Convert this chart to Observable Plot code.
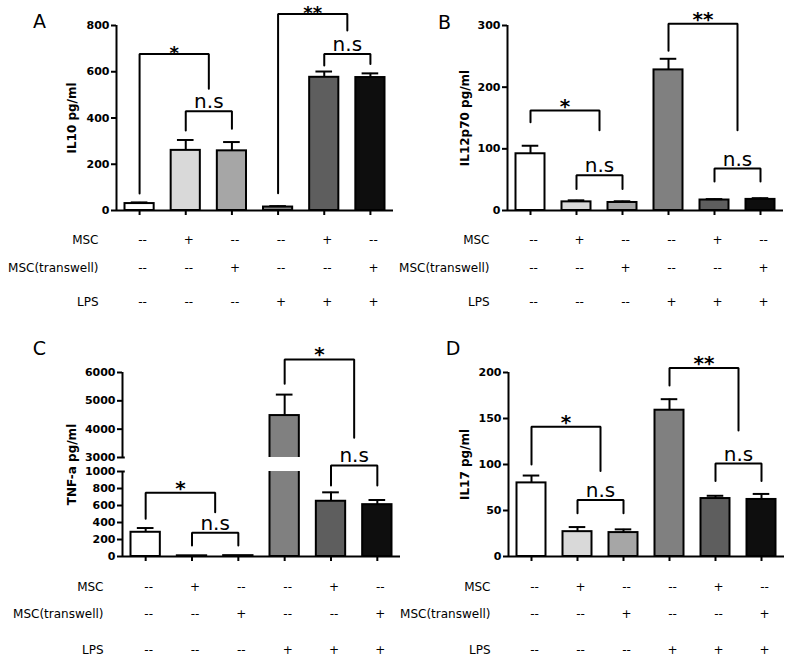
<!DOCTYPE html>
<html>
<head>
<meta charset="utf-8">
<script src="https://cdn.jsdelivr.net/npm/d3@7"></script>
<script src="https://cdn.jsdelivr.net/npm/@observablehq/plot@0.6"></script>
<style>
  body { margin: 0; background: #fff; }
  #fig { position: relative; width: 787px; height: 656px; overflow: hidden; background: #fff; }
  #fig > div { position: absolute; }
</style>
</head>
<body>
<div id="fig"></div>
<script>
// ---------- data ----------
const groups = [0, 1, 2, 3, 4, 5];
const barFills = ["#ffffff", "#d9d9d9", "#a6a6a6", "#808080", "#5e5e5e", "#0e0e0e"];

const rowLabels = ["MSC", "MSC(transwell)", "LPS"];
const mscRow = ["--", "+", "--", "--", "+", "--"];
const transwellRow = ["--", "--", "+", "--", "--", "+"];
const lpsRow = ["--", "--", "--", "+", "+", "+"];

const il10Mean = [30, 260, 258, 15, 576, 575];
const il10Sem = [5, 45, 38, 4, 25, 18];
const il10Ticks = [0, 200, 400, 600, 800];

const il12Mean = [92, 14, 13, 228, 17, 18];
const il12Sem = [13, 2.5, 2, 18, 1.5, 2];
const il12Ticks = [0, 100, 200, 300];

const tnfMean = [285, 8, 10, 4480, 650, 610];
const tnfSem = [50, 0, 0, 740, 105, 55];
const tnfTicks = [0, 200, 400, 600, 800, 1000, 3000, 4000, 5000, 6000];

const il17Mean = [80, 27, 26, 159, 63, 62];
const il17Sem = [8, 5, 3.5, 12, 3, 6];
const il17Ticks = [0, 50, 100, 150, 200];

// significance brackets: from/to group, left leg end, top, right leg end
const il10Brackets = [
  {from: 0, to: 1.5, left: 73, top: 677, right: 527, label: "*"},
  {from: 1, to: 2, left: 346, top: 429, right: 353, label: "n.s"},
  {from: 3, to: 4.5, left: 75, top: 850, right: 778, label: "**"},
  {from: 4, to: 5, left: 627, top: 677, right: 634, label: "n.s"}
];
const il12Brackets = [
  {from: 0, to: 1.5, left: 143, top: 162, right: 130, label: "*"},
  {from: 1, to: 2, left: 35, top: 57, right: 35, label: "n.s"},
  {from: 3, to: 4.5, left: 259, top: 303, right: 130, label: "**"},
  {from: 4, to: 5, left: 47, top: 68, right: 47, label: "n.s"}
];
const tnfBrackets = [
  {from: 0, to: 1.5, left: 443, top: 750, right: 521, label: "*"},
  {from: 1, to: 2, left: 129, top: 279, right: 129, label: "n.s"},
  {from: 3, to: 4.5, left: 5600, top: 6460, right: 3700, label: "*"},
  {from: 4, to: 5, left: 835, top: 1860, right: 835, label: "n.s"}
];
const il17Brackets = [
  {from: 0, to: 1.5, left: 100, top: 141, right: 93, label: "*"},
  {from: 1, to: 2, left: 47, top: 61.5, right: 47, label: "n.s"},
  {from: 3, to: 4.5, left: 186, top: 205, right: 137, label: "**"},
  {from: 4, to: 5, left: 82, top: 101, right: 82, label: "n.s"}
];

// broken axis for TNF-a: 0–1000 (full scale), gap, 3000–6000 (1/3 scale)
const breakLow = 1000, breakHigh = 3000, breakGap = 165, upperRatio = 1 / 3;
function tnfT(v) {
  if (v <= breakLow) return v;
  if (v >= breakHigh) return breakLow + breakGap + (v - breakHigh) * upperRatio;
  return breakLow + (v - breakLow) * breakGap / (breakHigh - breakLow);
}
function tnfInv(t) {
  if (t <= breakLow) return t;
  return breakHigh + (t - breakLow - breakGap) / upperRatio;
}

// ---------- drawing ----------
const fig = document.getElementById("fig");

function drawPanel(cfg) {
  const T = cfg.T || (v => v);
  const inv = cfg.inv || (v => v);
  const bars = groups.map(i => ({i, v: cfg.mean[i], e: cfg.sem[i], fill: barFills[i]}));
  const errs = bars.filter(d => d.e > 0);
  const pts = cfg.brackets.flatMap((b, k) => [
    {k, x: b.from, y: T(b.left)}, {k, x: b.from, y: T(b.top)},
    {k, x: b.to, y: T(b.top)}, {k, x: b.to, y: T(b.right)}
  ]);
  const stars = cfg.brackets.filter(b => b.label !== "n.s");
  const ns = cfg.brackets.filter(b => b.label === "n.s");
  const rows = [mscRow, transwellRow, lpsRow];
  const yMax = T(cfg.ticks[cfg.ticks.length - 1]);

  const marks = [
    Plot.rect(bars, {x1: d => d.i - 0.5, x2: d => d.i + 0.5, y1: () => 0, y2: d => T(d.v),
      fill: "fill", stroke: "black", strokeWidth: 2, insetLeft: 8.5, insetRight: 8.5})
  ];
  if (cfg.broken) {
    marks.push(Plot.rect(bars.filter(d => d.v > breakHigh), {x1: d => d.i - 0.5, x2: d => d.i + 0.5,
      y1: () => T(breakLow), y2: () => T(breakHigh), fill: "white", insetLeft: 6.5, insetRight: 6.5}));
  }
  marks.push(
    Plot.ruleX(errs, {x: "i", y1: d => T(d.v), y2: d => T(d.v + d.e), strokeWidth: 2}),
    Plot.ruleY(errs, {y: d => T(d.v + d.e), x1: d => d.i - 0.18, x2: d => d.i + 0.18, strokeWidth: 2}),
    Plot.ruleY([0], {strokeWidth: 2})
  );
  if (cfg.broken) {
    marks.push(
      Plot.ruleX([[0, T(breakLow)], [T(breakHigh), yMax]], {x: () => -0.5, y1: d => d[0], y2: d => d[1], strokeWidth: 2}),
      Plot.ruleY([T(breakLow), T(breakHigh)], {x1: () => -0.5, x2: () => -0.44, strokeWidth: 2})
    );
  } else {
    marks.push(Plot.ruleX([0], {x: () => -0.5, y1: () => 0, y2: () => yMax, strokeWidth: 2}));
  }
  marks.push(
    Plot.axisY({ticks: cfg.ticks.map(T), tickFormat: t => String(Math.round(inv(t))), tickSize: 5,
      tickPadding: 2, fontSize: 11, fontWeight: "bold", strokeWidth: 2, label: null}),
    Plot.axisX({ticks: groups, tickSize: 5, tickFormat: () => "", strokeWidth: 2, label: null}),
    Plot.line(pts, {x: "x", y: "y", z: "k", stroke: "black", strokeWidth: 2, strokeLinejoin: "miter"}),
    Plot.text(stars, {x: d => (d.from + d.to) / 2, y: d => T(d.top), text: "label", lineAnchor: "bottom",
      dy: cfg.starDy, fontSize: cfg.starSize, fontWeight: "bold"}),
    Plot.text(ns, {x: d => (d.from + d.to) / 2, y: d => T(d.top), text: "label", lineAnchor: "bottom",
      dy: -3, fontSize: 20}),
    Plot.text([cfg.title], {frameAnchor: "left", dx: cfg.titleDx, rotate: -90, textAnchor: "middle",
      lineAnchor: "middle", fontSize: 12, fontWeight: "bold"}),
    Plot.text([cfg.letter], {frameAnchor: "top-left", dx: cfg.letterDx, dy: cfg.letterDy, textAnchor: "middle",
      lineAnchor: "middle", fontSize: 19})
  );
  rows.forEach((row, r) => {
    marks.push(
      Plot.text(groups, {x: d => d, y: () => 0, dx: 3, dy: cfg.rowDy[r], text: d => row[d],
        fontSize: 12, lineAnchor: "middle"}),
      Plot.text([rowLabels[r]], {x: () => -0.5, y: () => 0, dx: cfg.rowLabelDx, dy: cfg.rowDy[r],
        textAnchor: "end", lineAnchor: "middle", fontSize: 12})
    );
  });

  const svg = Plot.plot({
    width: cfg.width, height: 328,
    marginLeft: cfg.mL, marginRight: cfg.mR, marginTop: cfg.mT, marginBottom: cfg.mB,
    x: {type: "linear", domain: [-0.5, 5.5], label: null},
    y: {type: "linear", domain: [0, yMax], label: null},
    color: {type: "identity"},
    style: {fontFamily: "'DejaVu Sans', sans-serif", background: "transparent", overflow: "visible", color: "black"},
    marks
  });
  const holder = document.createElement("div");
  holder.style.left = cfg.left + "px";
  holder.style.top = cfg.top + "px";
  holder.style.width = cfg.width + "px";
  holder.style.height = "328px";
  holder.appendChild(svg);
  fig.appendChild(holder);
}

drawPanel({letter: "A", title: "IL10 pg/ml", mean: il10Mean, sem: il10Sem, ticks: il10Ticks, brackets: il10Brackets,
  left: 0, top: 0, width: 397, mL: 116, mR: 4, mT: 25, mB: 118, starDy: 5, starSize: 18,
  letterDx: -77, letterDy: -4, titleDx: -44, rowDy: [30, 57.5, 92], rowLabelDx: -18});
drawPanel({letter: "B", title: "IL12p70 pg/ml", mean: il12Mean, sem: il12Sem, ticks: il12Ticks, brackets: il12Brackets,
  left: 390, top: 0, width: 397, mL: 117, mR: 4, mT: 25, mB: 118, starDy: 2, starSize: 20,
  letterDx: -63, letterDy: -3, titleDx: -42, rowDy: [30, 57.5, 92], rowLabelDx: -18});
drawPanel({letter: "C", title: "TNF-a pg/ml", mean: tnfMean, sem: tnfSem, ticks: tnfTicks, brackets: tnfBrackets,
  T: tnfT, inv: tnfInv, broken: true, starDy: 2, starSize: 20,
  left: 0, top: 328, width: 405, mL: 122, mR: 5, mT: 44, mB: 100,
  letterDx: -83, letterDy: -24, titleDx: -50, rowDy: [30.7, 57.3, 93.3], rowLabelDx: -19});
drawPanel({letter: "D", title: "IL17 pg/ml", mean: il17Mean, sem: il17Sem, ticks: il17Ticks, brackets: il17Brackets,
  left: 390, top: 328, width: 397, mL: 118, mR: 3, mT: 44, mB: 100, starDy: 2, starSize: 20,
  letterDx: -55.5, letterDy: -23.5, titleDx: -43, rowDy: [30.7, 57.3, 93.3], rowLabelDx: -18});
</script>
</body>
</html>
